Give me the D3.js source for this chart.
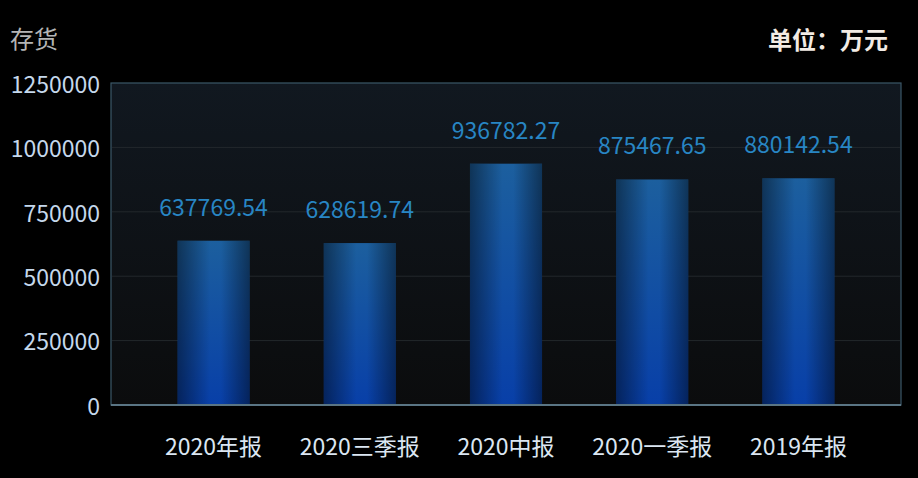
<!DOCTYPE html>
<html><head><meta charset="utf-8">
<script src="https://cdn.jsdelivr.net/npm/d3@7/dist/d3.min.js"></script>
<style>
html,body{margin:0;padding:0;background:#000;}
svg{display:block;}
text{font-family:"Noto Sans CJK SC","Noto Sans",sans-serif;}
</style></head>
<body>
<svg id="chart" width="918" height="478"></svg>
<script>
const categories = ["2020年报","2020三季报","2020中报","2020一季报","2019年报"];
const values = [637769.54, 628619.74, 936782.27, 875467.65, 880142.54];
const yTicks = [0, 250000, 500000, 750000, 1000000, 1250000];
const titleText = "存货";
const unitText = "单位：万元";

const plot = {left:111, top:83, right:901, bottom:405};
const svg = d3.select("#chart");
const defs = svg.append("defs");

const bg = defs.append("linearGradient").attr("id","bg").attr("x1",0).attr("y1",0).attr("x2",0).attr("y2",1);
bg.append("stop").attr("offset","0%").attr("stop-color","#111820");
bg.append("stop").attr("offset","100%").attr("stop-color","#0b0c0d");

const vg = defs.append("linearGradient").attr("id","barV").attr("x1",0).attr("y1",0).attr("x2",0).attr("y2",1);
vg.append("stop").attr("offset","0%").attr("stop-color","#1c5f9e");
vg.append("stop").attr("offset","100%").attr("stop-color","#083fa8");

const hg = defs.append("linearGradient").attr("id","barH").attr("x1",0).attr("y1",0).attr("x2",1).attr("y2",0);
hg.append("stop").attr("offset","0%").attr("stop-color","#000").attr("stop-opacity",0.45);
hg.append("stop").attr("offset","45%").attr("stop-color","#000").attr("stop-opacity",0);
hg.append("stop").attr("offset","60%").attr("stop-color","#000").attr("stop-opacity",0);
hg.append("stop").attr("offset","100%").attr("stop-color","#000").attr("stop-opacity",0.45);

const y = d3.scaleLinear().domain([0,1250000]).range([plot.bottom, plot.top]);
const x = d3.scaleBand().domain(categories).range([plot.left+30, plot.right-30]).paddingInner(0.507).paddingOuter(0.25);

svg.append("rect").attr("x",plot.left).attr("y",plot.top)
  .attr("width",plot.right-plot.left).attr("height",plot.bottom-plot.top)
  .attr("fill","url(#bg)").attr("stroke","#3b5868").attr("stroke-width",1.2);

svg.append("g").selectAll("line").data(yTicks.filter(d=>d>0 && d<1250000)).join("line")
  .attr("x1",plot.left+1).attr("x2",plot.right-1)
  .attr("y1",d=>y(d)).attr("y2",d=>y(d))
  .attr("stroke","#23282c").attr("stroke-width",1);

const yAxis = d3.axisLeft(y).tickValues(yTicks).tickSize(0).tickPadding(11).tickFormat(d=>String(d));
const ya = svg.append("g").attr("transform",`translate(${plot.left},0)`).call(yAxis);
ya.select(".domain").remove();
ya.selectAll("text").attr("fill","#c5d8ec").attr("font-size",23).attr("dy","0.4em");

const bars = svg.append("g");
bars.selectAll("rect.v").data(values).join("rect").attr("class","v")
  .attr("x",(d,i)=>x(categories[i])).attr("width",x.bandwidth())
  .attr("y",d=>y(d)).attr("height",d=>y(0)-y(d)).attr("fill","url(#barV)");
bars.selectAll("rect.h").data(values).join("rect").attr("class","h")
  .attr("x",(d,i)=>x(categories[i])).attr("width",x.bandwidth())
  .attr("y",d=>y(d)).attr("height",d=>y(0)-y(d)).attr("fill","url(#barH)");

svg.append("g").selectAll("text").data(values).join("text")
  .attr("x",(d,i)=>x(categories[i])+x.bandwidth()/2)
  .attr("y",d=>y(d)-25)
  .attr("text-anchor","middle").attr("fill","#2886c4").attr("font-size",23)
  .text(d=>d.toFixed(2));

svg.append("line").attr("x1",plot.left).attr("x2",plot.right)
  .attr("y1",plot.bottom).attr("y2",plot.bottom)
  .attr("stroke","#5a7584").attr("stroke-width",2);

const xAxis = d3.axisBottom(x).tickSize(0).tickPadding(34);
const xa = svg.append("g").attr("transform",`translate(0,${plot.bottom})`).call(xAxis);
xa.select(".domain").remove();
xa.selectAll("text").attr("fill","#dbe6f2").attr("font-size",23);

svg.append("text").attr("x",10).attr("y",48).attr("fill","#b4b4b4").attr("font-size",24).text(titleText);
svg.append("text").attr("x",888).attr("y",49).attr("text-anchor","end").attr("fill","#f2ebe4")
  .attr("font-size",24).attr("font-weight","bold").text(unitText);
</script>
</body></html>
